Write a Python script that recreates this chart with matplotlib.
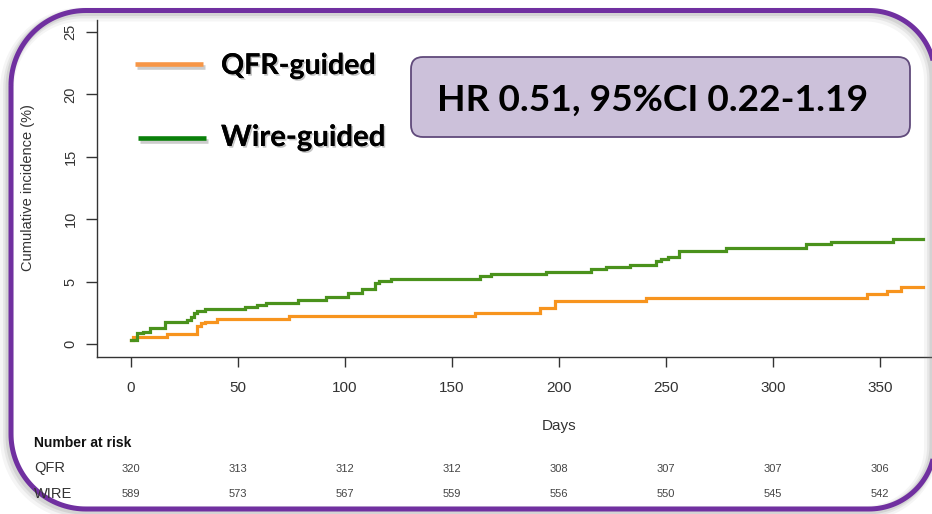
import matplotlib
matplotlib.use("Agg")
import numpy as np
import matplotlib.pyplot as plt
from matplotlib.patches import FancyBboxPatch, Polygon
from matplotlib.lines import Line2D
import matplotlib.patheffects as pe
import matplotlib.transforms as mtransforms

# ---------------- data ----------------
wire_days = [0, 3, 5.8, 8.9, 15.9, 26.3, 27.9, 29.4, 31, 34.6, 53.2, 58.7, 63, 78.1, 91,
             101.5, 107.7, 114, 116, 121.3, 162.8, 168, 194, 215, 221.8, 233, 245.3, 247.6,
             251, 256, 278, 315.4, 326.9, 356, 370]
wire_vals = [0.3, 0.85, 1.0, 1.25, 1.74, 1.92, 2.2, 2.5, 2.67, 2.83, 3.0, 3.15, 3.3, 3.52, 3.8,
             4.1, 4.38, 4.9, 5.07, 5.23, 5.42, 5.6, 5.8, 5.98, 6.15, 6.33, 6.65, 6.8,
             7.0, 7.48, 7.67, 8.04, 8.2, 8.39, 8.39]
qfr_days = [0, 1.1, 17, 31, 32.5, 34.6, 40, 74, 160.8, 191, 198, 240.8, 344, 353, 359.8, 370]
qfr_vals = [0.3, 0.58, 0.8, 1.44, 1.66, 1.76, 2.03, 2.27, 2.5, 2.86, 3.44, 3.68, 3.98, 4.27,
            4.57, 4.57]

x_ticks = [0, 50, 100, 150, 200, 250, 300, 350]
y_ticks = [0, 5, 10, 15, 20, 25]
risk_qfr = [320, 313, 312, 312, 308, 307, 307, 306]
risk_wire = [589, 573, 567, 559, 556, 550, 545, 542]
legend_labels = ["QFR-guided", "Wire-guided"]
hr_text = "HR 0.51, 95%CI 0.22-1.19"

# ---------------- figure ----------------
W, H = 932, 514
fig = plt.figure(figsize=(W / 100, H / 100), dpi=100)
fig.patch.set_facecolor("white")

def px_axes(x0, y0, x1, y1):
    return [x0 / W, 1 - y1 / H, (x1 - x0) / W, (y1 - y0) / H]

def Y(y):
    return H - y

ax = fig.add_axes(px_axes(97, 20, 932, 357))
ax.set_xlim(-15.9, 374.2)
ax.set_ylim(-1.04, 25.96)

axis_col = "#333333"
qfr_col = "#F7941E"
wire_col = "#4A921C"

ax.step(qfr_days, qfr_vals, where="post", color=qfr_col, lw=2.3, solid_joinstyle="miter")
ax.step(wire_days, wire_vals, where="post", color=wire_col, lw=2.3, solid_joinstyle="miter")

for s in ["top", "right"]:
    ax.spines[s].set_visible(False)
for s in ["left", "bottom"]:
    ax.spines[s].set_color(axis_col)
    ax.spines[s].set_linewidth(1.0)

ax.set_xticks(x_ticks)
ax.set_yticks(y_ticks)
ax.tick_params(axis="x", length=7, width=1, color=axis_col, pad=10,
               labelsize=11, labelcolor=axis_col)
ax.tick_params(axis="y", length=8, width=1, color=axis_col, pad=6,
               labelsize=10.5, labelcolor=axis_col)
for lab in ax.get_yticklabels():
    lab.set_rotation(90)
    lab.set_va("center")
    lab.set_family("Liberation Sans")
for lab in ax.get_xticklabels():
    lab.set_family("Liberation Sans")

# ---------------- overlay in pixel coordinates (y measured from top via Y()) ----------------
ov = fig.add_axes([0, 0, 1, 1], zorder=10)
ov.set_xlim(0, W)
ov.set_ylim(0, H)
ov.axis("off")
ov.patch.set_alpha(0)

ov.text(28, Y(188), "Cumulative incidence (%)", rotation=90, ha="center",
        va="center", fontsize=10.5, color=axis_col, family="Liberation Sans")

blend = mtransforms.blended_transform_factory(ax.transData, ov.transData)
ov.text(200, Y(426), "Days", transform=blend, ha="center", va="center", fontsize=11,
        color=axis_col, family="Liberation Sans")

ov.text(34, Y(443), "Number at risk", ha="left", va="center", fontsize=10, fontweight="bold",
        color="#111111", family="Liberation Sans")
ov.text(34, Y(468), "QFR", ha="left", va="center", fontsize=10.5, color=axis_col,
        family="Liberation Sans")
ov.text(34, Y(494), "WIRE", ha="left", va="center", fontsize=10.5, color=axis_col,
        family="Liberation Sans")
for xv, a, b in zip(x_ticks, risk_qfr, risk_wire):
    ov.text(xv, Y(469), str(a), transform=blend, ha="center", va="center", fontsize=8,
            color="#444444", family="Liberation Sans")
    ov.text(xv, Y(494), str(b), transform=blend, ha="center", va="center", fontsize=8,
            color="#444444", family="Liberation Sans")

# legend lines with shadow
shadow = [pe.SimpleLineShadow(offset=(1.5, -2.5), shadow_color="gray", alpha=0.4), pe.Normal()]
ov.add_line(Line2D([135, 203], [Y(64), Y(64)], color="#F79646", lw=3.3, solid_capstyle="butt",
                   path_effects=shadow))
ov.add_line(Line2D([138, 206], [Y(138), Y(138)], color="#0A800A", lw=3.3,
                   solid_capstyle="butt", path_effects=shadow))

tshadow = [pe.withSimplePatchShadow(offset=(1.2, -1.2), shadow_rgbFace="gray", alpha=0.45),
           pe.Normal()]
t1 = ov.text(221, Y(66), legend_labels[0], ha="left", va="center", fontsize=17,
             fontweight="bold", family="Lato", color="black", path_effects=tshadow)
t2 = ov.text(221, Y(138), legend_labels[1], ha="left", va="center", fontsize=17,
             fontweight="bold", family="Lato", color="black", path_effects=tshadow)

# HR box
box = FancyBboxPatch((411, Y(137)), 910 - 411, 137 - 57,
                     boxstyle="round,pad=0,rounding_size=12",
                     facecolor="#CCC1DA", edgecolor="#604A7B", lw=1.3)
ov.add_patch(box)
t3 = ov.text(437, Y(100), hr_text, ha="left", va="center", fontsize=26, fontweight="bold",
             family="Lato", color="black")

# fit text widths to reference
fig.canvas.draw()
r = fig.canvas.get_renderer()
for t, target in [(t1, 155), (t2, 165), (t3, 431)]:
    w = t.get_window_extent(r).width
    t.set_fontsize(t.get_fontsize() * target / w)

# outer rounded frame (true circular corners), decorative
def rounded_rect(x0, y0, x1, y1, rl, rr):
    pts = []
    # corners: (center, radius, start angle, end angle), going clockwise in screen terms
    corners = [((x0 + rl, y0 + rl), rl, 180, 270),   # top-left (screen y downward)
               ((x1 - rr, y0 + rr), rr, 270, 360),   # top-right
               ((x1 - rr, y1 - rr), rr, 0, 90),      # bottom-right
               ((x0 + rl, y1 - rl), rl, 90, 180)]    # bottom-left
    for (cx, cy), rad, a0, a1 in corners:
        th = np.radians(np.linspace(a0, a1, 40))
        for t_ in th:
            pts.append((cx + rad * np.cos(t_), Y(cy + rad * np.sin(t_))))
    return pts

fx0, fy0, fx1, fy1 = 11, 10.5, 935, 509
for dx, dy, a, lw in [(-4, 4, 0.08, 10), (-3, 3, 0.12, 7), (-2, 2, 0.18, 5)]:
    ov.add_patch(Polygon(rounded_rect(fx0 + dx, fy0 + dy, fx1 + dx, fy1 + dy, 75, 66),
                         closed=True, facecolor="none", edgecolor="gray", lw=lw, alpha=a))
ov.add_patch(Polygon(rounded_rect(fx0, fy0, fx1, fy1, 75, 66), closed=True,
                     facecolor="none", edgecolor="#7030A0", lw=3.6))

fig.savefig("out.png", dpi=100, facecolor="white")
